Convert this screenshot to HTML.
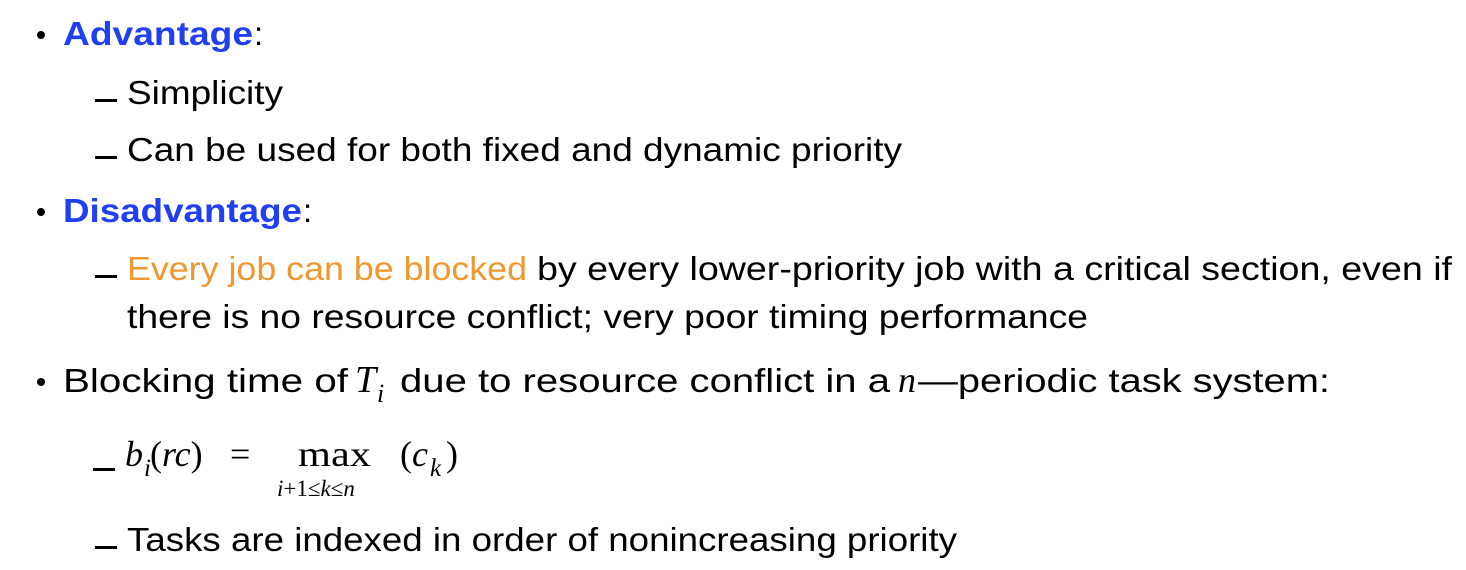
<!DOCTYPE html>
<html><head><meta charset="utf-8"><style>
body{margin:0;background:#fff;width:1466px;height:570px;overflow:hidden}
svg{display:block}
text{font-family:"Liberation Sans",sans-serif;font-size:33px;fill:#000}
.b{fill:#1f3ff0;font-weight:bold}
.o{fill:#f0982f}
.m{font-family:"Liberation Serif",serif;font-style:italic}
.r{font-family:"Liberation Serif",serif}
</style></head><body>
<svg width="1466" height="570" xmlns="http://www.w3.org/2000/svg">
<g fill="#000">
<circle cx="41" cy="35" r="4"/><circle cx="41" cy="212" r="4"/><circle cx="41" cy="382" r="4"/>
<rect x="95" y="99" width="22" height="3"/><rect x="95" y="156" width="22" height="3"/>
<rect x="95" y="275" width="22" height="3"/><rect x="93" y="468" width="22" height="3"/>
<rect x="95" y="546" width="22" height="3"/>
</g>
<text x="63" y="45" class="b" textLength="190" lengthAdjust="spacingAndGlyphs">Advantage</text><text x="254" y="45">:</text>
<text x="127" y="104" textLength="156" lengthAdjust="spacingAndGlyphs">Simplicity</text>
<text x="127" y="161" textLength="775" lengthAdjust="spacingAndGlyphs">Can be used for both fixed and dynamic priority</text>
<text x="63" y="222" class="b" textLength="239" lengthAdjust="spacingAndGlyphs">Disadvantage</text><text x="303" y="222">:</text>
<text x="127" y="280" class="o" textLength="400" lengthAdjust="spacingAndGlyphs">Every job can be blocked</text>
<text x="537" y="280" textLength="915" lengthAdjust="spacingAndGlyphs">by every lower-priority job with a critical section, even if</text>
<text x="127" y="328" textLength="961" lengthAdjust="spacingAndGlyphs">there is no resource conflict; very poor timing performance</text>
<text x="63" y="392" textLength="285" lengthAdjust="spacingAndGlyphs">Blocking time of</text>
<text x="355" y="392" class="m" style="font-size:38px">T</text><text x="377" y="402" class="m" style="font-size:26px">i</text>
<text x="400" y="392" textLength="490" lengthAdjust="spacingAndGlyphs">due to resource conflict in a</text>
<text x="898" y="392" class="m" style="font-size:36px">n</text>
<text x="918" y="392" textLength="412" lengthAdjust="spacingAndGlyphs">—periodic task system:</text>
<text x="125" y="466" class="m" style="font-size:36px">b</text><text x="144" y="476" class="m" style="font-size:25px">i</text>
<text x="150" y="466" class="r" style="font-size:36px">(<tspan class="m">rc</tspan>)</text>
<text x="230" y="466" class="r" style="font-size:36px">=</text>
<text x="298" y="466" class="r" style="font-size:36px" textLength="73" lengthAdjust="spacingAndGlyphs">max</text>
<text x="277" y="496" class="r" style="font-size:23px"><tspan class="m">i</tspan>+1≤<tspan class="m">k</tspan>≤<tspan class="m">n</tspan></text>
<text x="400" y="466" class="r" style="font-size:36px">(<tspan class="m">c</tspan></text><text x="430" y="476" class="m" style="font-size:25px">k</text><text x="446" y="466" class="r" style="font-size:36px">)</text>
<text x="127" y="551" textLength="830" lengthAdjust="spacingAndGlyphs">Tasks are indexed in order of nonincreasing priority</text>
</svg>
</body></html>
